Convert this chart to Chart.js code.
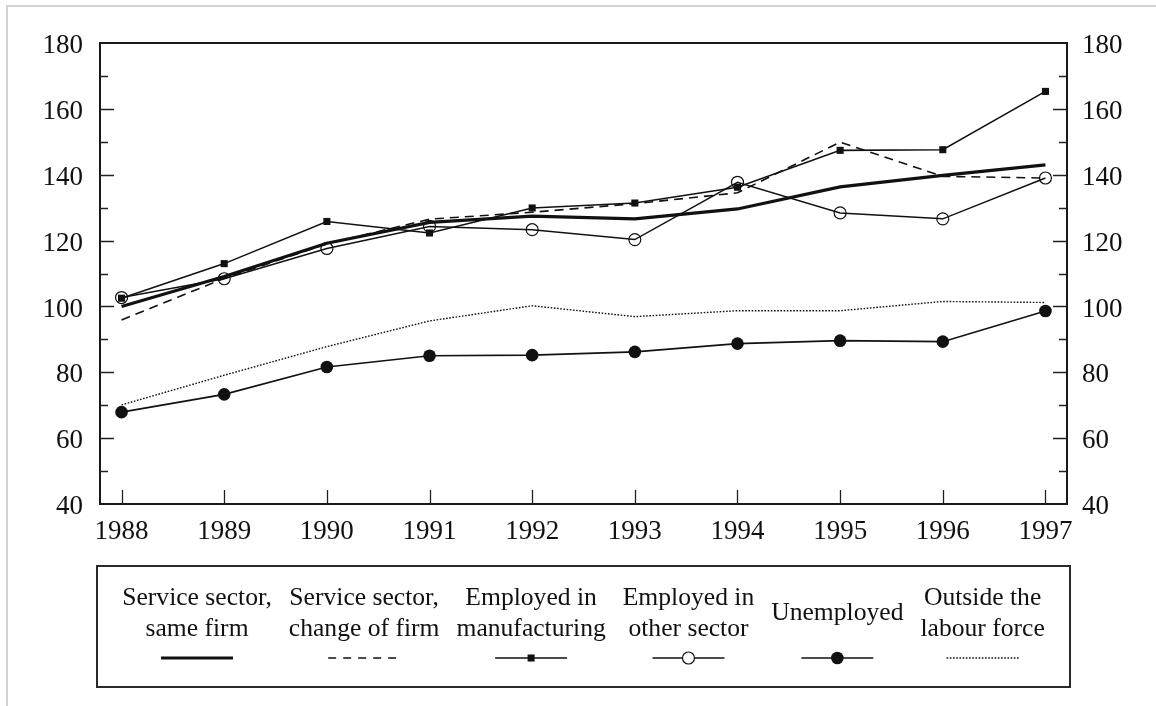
<!DOCTYPE html>
<html><head><meta charset="utf-8">
<script src="https://cdn.jsdelivr.net/npm/chart.js@4.4.1/dist/chart.umd.min.js"></script>
<style>
html,body{margin:0;padding:0;background:#fff;overflow:hidden;}
#wrap{position:relative;width:1156px;height:706px;}
#frame{position:absolute;left:6px;top:5px;width:1200px;height:800px;border-top:2px solid #d2d2d2;border-left:2px solid #d2d2d2;pointer-events:none;}
canvas{position:absolute;left:0;top:0;}
</style></head><body>
<div id="wrap"><canvas id="c" width="1156" height="706"></canvas><div id="frame"></div></div>
<script>
const years = [1988, 1989, 1990, 1991, 1992, 1993, 1994, 1995, 1996, 1997];
const serviceSameFirm   = [100.0, 109.1, 119.2, 125.5, 127.4, 126.6, 129.6, 136.3, 139.8, 143.0];
const serviceChangeFirm = [95.9, 108.5, 119.0, 126.5, 128.6, 131.2, 134.5, 149.9, 139.5, 139.0];
const manufacturing     = [102.5, 113.0, 125.8, 122.3, 129.9, 131.4, 136.2, 147.4, 147.6, 165.3];
const otherSector       = [102.7, 108.4, 117.6, 124.3, 123.3, 120.3, 137.7, 128.4, 126.6, 139.0];
const unemployed        = [67.9, 73.3, 81.6, 85.0, 85.2, 86.2, 88.7, 89.6, 89.3, 98.6];
const outsideLabour     = [70.1, 79.1, 87.8, 95.6, 100.2, 96.9, 98.7, 98.7, 101.5, 101.2];
const yTickValues = [40, 60, 80, 100, 120, 140, 160, 180];
const legendLabels = [
  ["Service sector,", "same firm"],
  ["Service sector,", "change of firm"],
  ["Employed in", "manufacturing"],
  ["Employed in", "other sector"],
  ["Unemployed"],
  ["Outside the", "labour force"]
];

const FONT = '"Liberation Serif", "Times New Roman", serif';
const INK = '#111';
const toPts = arr => years.map((y, i) => ({x: y, y: arr[i]}));

const datasets = [
  {label: legendLabels[0].join(' '), data: toPts(serviceSameFirm), borderColor: INK, borderWidth: 3.2, pointRadius: 0, borderDash: []},
  {label: legendLabels[1].join(' '), data: toPts(serviceChangeFirm), borderColor: INK, borderWidth: 1.6, pointRadius: 0, borderDash: [9, 6]},
  {label: legendLabels[2].join(' '), data: toPts(manufacturing), borderColor: INK, borderWidth: 1.6, pointStyle: 'rect', pointRadius: 5, backgroundColor: INK, pointBorderWidth: 0, borderDash: []},
  {label: legendLabels[3].join(' '), data: toPts(otherSector), borderColor: INK, borderWidth: 1.5, pointStyle: 'circle', pointRadius: 6, backgroundColor: '#fff', pointBackgroundColor: 'rgba(255,255,255,0)', pointBorderWidth: 1.2, borderDash: []},
  {label: legendLabels[4].join(' '), data: toPts(unemployed), borderColor: INK, borderWidth: 1.6, pointStyle: 'circle', pointRadius: 6.3, backgroundColor: INK, pointBorderWidth: 0, borderDash: []},
  {label: legendLabels[5].join(' '), data: toPts(outsideLabour), borderColor: INK, borderWidth: 1.4, pointRadius: 0, borderDash: [1.6, 1.6]}
];
datasets.forEach(d => { d.tension = 0; d.fill = false; d.yAxisID = 'y'; d.pointHoverRadius = d.pointRadius; });

const innerTicks = {
  id: 'innerTicks',
  beforeDatasetsDraw(chart) {
    const {ctx, chartArea: a} = chart;
    const xs = chart.scales.x, ys = chart.scales.y;
    ctx.save();
    ctx.strokeStyle = '#222';
    ctx.lineWidth = 1.3;
    ctx.beginPath();
    years.forEach(v => {
      const px = Math.round(xs.getPixelForValue(v)) + 0.5;
      ctx.moveTo(px, a.bottom); ctx.lineTo(px, a.bottom - 14);
    });
    for (let i = 0; i < yTickValues.length; i++) {
      const v = yTickValues[i];
      if (i > 0 && i < yTickValues.length - 1) {
        const py = Math.round(ys.getPixelForValue(v)) + 0.5;
        ctx.moveTo(a.left, py); ctx.lineTo(a.left + 14, py);
        ctx.moveTo(a.right, py); ctx.lineTo(a.right - 14, py);
      }
      if (i < yTickValues.length - 1) {
        const mv = (v + yTickValues[i + 1]) / 2;
        const pm = Math.round(ys.getPixelForValue(mv)) + 0.5;
        ctx.moveTo(a.left, pm); ctx.lineTo(a.left + 8, pm);
        ctx.moveTo(a.right, pm); ctx.lineTo(a.right - 8, pm);
      }
    }
    ctx.stroke();
    ctx.lineWidth = 2;
    ctx.strokeStyle = '#1a1a1a';
    ctx.strokeRect(a.left, a.top, a.right - a.left, a.bottom - a.top);
    ctx.restore();
  }
};

const boxLegend = {
  id: 'boxLegend',
  afterDraw(chart) {
    const {ctx, chartArea: a} = chart;
    const L = {top: 566, bottom: 687, line1: 605, line2: 636, single: 620, sampleY: 658, gap: 17, half: 36};
    const left = a.left - 3, right = a.right + 3;
    ctx.save();
    ctx.lineWidth = 2;
    ctx.strokeStyle = '#2a2a2a';
    ctx.strokeRect(left, L.top, right - left, L.bottom - L.top);
    ctx.font = '25.6px ' + FONT;
    ctx.fillStyle = INK;
    ctx.textAlign = 'center';
    ctx.textBaseline = 'alphabetic';
    const widths = legendLabels.map(lines => Math.max(...lines.map(t => ctx.measureText(t).width)));
    const total = widths.reduce((s, w) => s + w, 0) + L.gap * (widths.length - 1);
    let x = (left + right) / 2 - total / 2;
    chart.data.datasets.forEach((ds, i) => {
      const cx = x + widths[i] / 2;
      const lines = legendLabels[i];
      if (lines.length === 2) {
        ctx.fillText(lines[0], cx, L.line1);
        ctx.fillText(lines[1], cx, L.line2);
      } else {
        ctx.fillText(lines[0], cx, L.single);
      }
      ctx.save();
      ctx.strokeStyle = ds.borderColor;
      ctx.lineWidth = ds.borderWidth;
      ctx.setLineDash(i === 1 ? [8, 7] : (ds.borderDash || []));
      ctx.beginPath();
      ctx.moveTo(cx - L.half, L.sampleY); ctx.lineTo(cx + L.half, L.sampleY);
      ctx.stroke();
      ctx.setLineDash([]);
      if (ds.pointRadius > 0) {
        ctx.fillStyle = ds.pointStyle === 'circle' && i === 3 ? '#fff' : INK;
        ctx.strokeStyle = INK;
        ctx.lineWidth = ds.pointBorderWidth || 0.01;
        Chart.helpers.drawPoint(ctx, {pointStyle: ds.pointStyle, radius: ds.pointRadius, rotation: 0, borderWidth: ds.pointBorderWidth}, cx, L.sampleY);
      }
      ctx.restore();
      x += widths[i] + L.gap;
    });
    ctx.restore();
  }
};

new Chart(document.getElementById('c'), {
  type: 'line',
  data: {datasets},
  options: {
    responsive: false,
    animation: false,
    devicePixelRatio: 1,
    layout: {padding: {left: 0, right: 0, top: 43, bottom: 162}},
    plugins: {legend: {display: false}, tooltip: {enabled: false}},
    elements: {line: {borderCapStyle: 'butt', borderJoinStyle: 'miter'}},
    scales: {
      x: {
        type: 'linear', position: 'bottom', min: 1987.79, max: 1997.21,
        afterBuildTicks: s => { s.ticks = years.map(v => ({value: v})); },
        afterFit: s => { s.height = 40; },
        grid: {display: false, drawTicks: false},
        border: {display: false},
        ticks: {font: {family: FONT, size: 27}, color: INK, padding: 12, maxRotation: 0, autoSkip: false, callback: v => String(v)}
      },
      y: {
        type: 'linear', position: 'left', min: 40, max: 180,
        afterBuildTicks: s => { s.ticks = yTickValues.map(v => ({value: v})); },
        afterFit: s => { s.width = 100; },
        grid: {display: false, drawTicks: false},
        border: {display: false},
        ticks: {font: {family: FONT, size: 27}, color: INK, padding: 17, labelOffset: 3, callback: v => String(v)}
      },
      y2: {
        type: 'linear', position: 'right', min: 40, max: 180,
        afterBuildTicks: s => { s.ticks = yTickValues.map(v => ({value: v})); },
        afterFit: s => { s.width = 89; },
        grid: {display: false, drawTicks: false},
        border: {display: false},
        ticks: {font: {family: FONT, size: 27}, color: INK, padding: 15, labelOffset: 3, callback: v => String(v)}
      }
    }
  },
  plugins: [innerTicks, boxLegend]
});
</script>
</body></html>
